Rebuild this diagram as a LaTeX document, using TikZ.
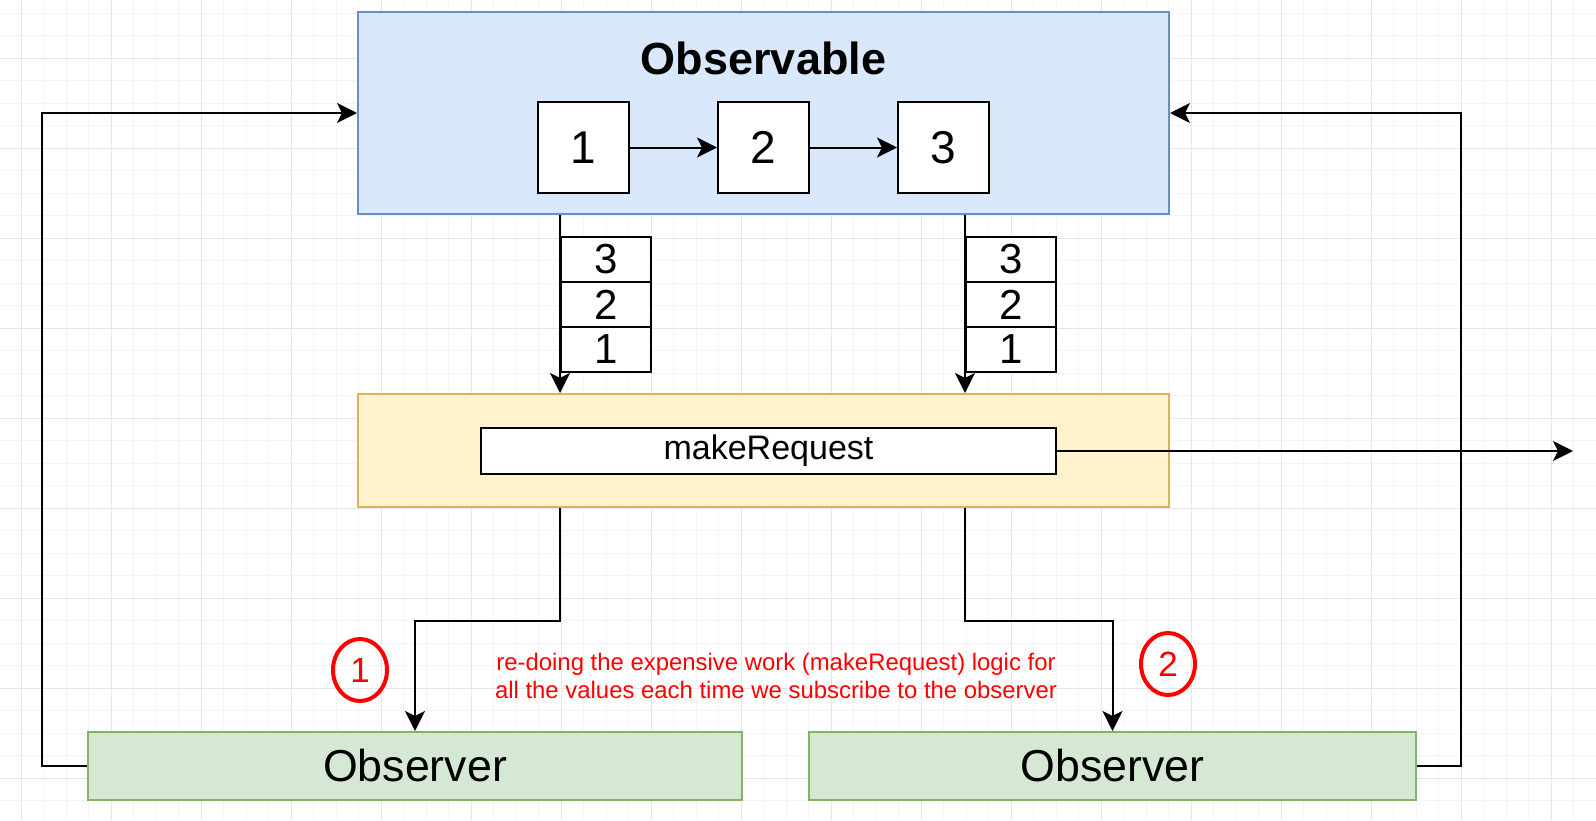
\documentclass[tikz,border=0pt]{standalone}
\usepackage{fontspec}
\setmainfont{Liberation Sans}
\usetikzlibrary{arrows.meta,shapes.geometric}
\definecolor{obsfill}{HTML}{DAE8FC}
\definecolor{obsdraw}{HTML}{6C8EBF}
\definecolor{mrfill}{HTML}{FFF2CC}
\definecolor{mrdraw}{HTML}{D6B656}
\definecolor{obvfill}{HTML}{D5E8D4}
\definecolor{obvdraw}{HTML}{82B366}
\definecolor{gridminor}{HTML}{F4F4F4}
\definecolor{gridmajor}{HTML}{E6E6E6}
\definecolor{noteRed}{HTML}{FF0000}
\begin{document}
\begin{tikzpicture}[x=1pt,y=-1pt,
  conn/.style={draw=black,line width=2pt,-{Stealth[length=20pt,width=20pt,inset=5pt]}},
  bigbox/.style={rectangle,line width=2pt,inner sep=0pt,minimum width=811pt},
  valbox/.style={rectangle,draw=black,fill=white,line width=2pt,inner sep=0pt,
    minimum width=91pt,minimum height=91pt,font=\fontsize{46}{50}\selectfont},
  stackbox/.style={rectangle,draw=black,fill=white,line width=2pt,inner sep=0pt,
    minimum width=90pt,minimum height=45pt,font=\fontsize{42}{46}\selectfont},
  obsvbox/.style={rectangle,draw=obvdraw,fill=obvfill,line width=2pt,inner sep=0pt,
    minimum height=68pt,font=\fontsize{44.7}{48}\selectfont},
  numring/.style={ellipse,draw=noteRed,line width=4pt,inner sep=0pt,
    minimum width=54pt,minimum height=62pt,text=noteRed,font=\fontsize{35}{40}\selectfont}]
\useasboundingbox (0,0) rectangle (1596,820);
\fill[white] (0,0) rectangle (1596,820);
% background grid
\foreach \i in {0,...,71} {\draw[gridminor,line width=1pt] (-1.5+22.5*\i,0) -- (-1.5+22.5*\i,820);}
\foreach \i in {0,...,37} {\draw[gridminor,line width=1pt] (0,-9.5+22.5*\i) -- (1596,-9.5+22.5*\i);}
\foreach \i in {0,...,17} {\draw[gridmajor,line width=1pt] (21+90*\i,0) -- (21+90*\i,820);}
\foreach \i in {0,...,9} {\draw[gridmajor,line width=1pt] (0,-32+90*\i) -- (1596,-32+90*\i);}

% Observable container
\node[bigbox,draw=obsdraw,fill=obsfill,minimum height=202pt] (observable) at (763.5,113) {};
\node[font=\bfseries\fontsize{45}{50}\selectfont] (title) at (763.5,58) {Observable};
\node[valbox] (v1) at (583.5,147.5) {1};
\node[valbox] (v2) at (763.5,147.5) {2};
\node[valbox] (v3) at (943.5,147.5) {3};
\draw[conn] (v1) -- (v2);
\draw[conn] (v2) -- (v3);

% stacks
\node[stackbox] (a3) at (606,259.5) {3};
\node[stackbox] (a2) at (606,304.5) {2};
\node[stackbox] (a1) at (606,349.5) {1};
\node[stackbox] (b3) at (1011,259.5) {3};
\node[stackbox] (b2) at (1011,304.5) {2};
\node[stackbox] (b1) at (1011,349.5) {1};

% makeRequest container
\node[bigbox,draw=mrdraw,fill=mrfill,minimum height=113pt] (pipe) at (763.5,450.5) {};
\node[rectangle,draw=black,fill=white,line width=2pt,inner sep=0pt,minimum width=575pt,
  minimum height=46pt,font=\fontsize{34}{38}\selectfont] (mr) at (768.5,451) {makeRequest};
\coordinate (out) at (1573,451);
\draw[conn] (mr.east) -- (out);

\draw[conn] (observable.south -| a1.west) -- (pipe.north -| a1.west);
\draw[conn] (observable.south -| b1.west) -- (pipe.north -| b1.west);

% observers
\node[obsvbox,minimum width=654pt] (obs1) at (415,766) {Observer};
\node[obsvbox,minimum width=607pt] (obs2) at (1112.5,766) {Observer};

\draw[conn] (pipe.south -| a1.west) -- ++(0,113) -| (obs1.north);
\draw[conn] (pipe.south -| b1.west) -- ++(0,113) -| (obs2.north);

\draw[conn] (obs1.west) -- ++(-45,0) |- (observable.west);
\draw[conn] (obs2.east) -- ++(44,0) |- (observable.east);

% annotations
\node[numring] (r1) at (360,670) {1};
\node[numring] (r2) at (1168,664) {2};
\node[text=noteRed,font=\fontsize{23.9}{28}\selectfont,align=center,inner sep=0pt] (note) at (776,676)
  {re-doing the expensive work (makeRequest) logic for\\all the values each time we subscribe to the observer};
\end{tikzpicture}
\end{document}
